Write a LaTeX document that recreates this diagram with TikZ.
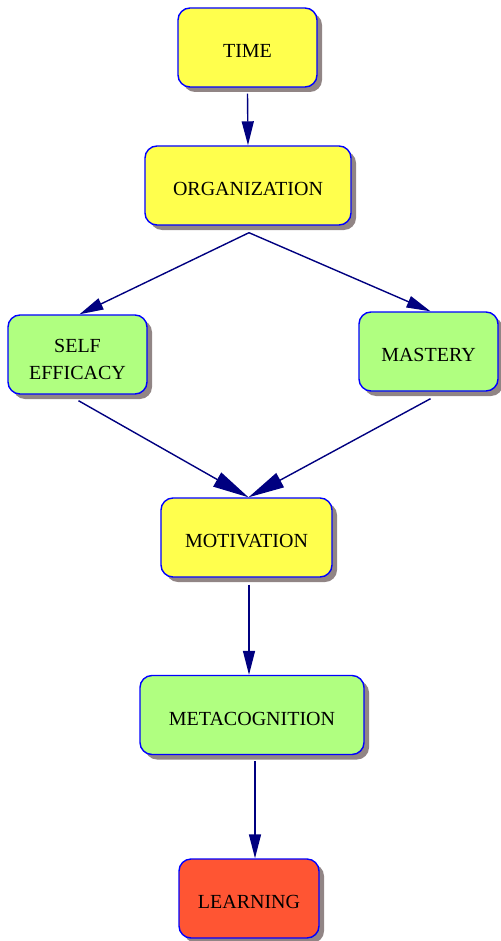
\documentclass[tikz,border=0pt]{standalone}
\usepackage{fontspec}
\setmainfont{Liberation Serif}
\usetikzlibrary{arrows.meta,shadows}
\definecolor{boxyellow}{HTML}{FFFF4D}
\definecolor{boxgreen}{HTML}{B0FF80}
\definecolor{boxred}{HTML}{FF5533}
\definecolor{shadowgray}{HTML}{918585}
\definecolor{edgenavy}{HTML}{000080}
\definecolor{borderblue}{HTML}{0000FF}
\begin{document}
\begin{tikzpicture}[x=1pt,y=-1pt,
  box/.style={draw=borderblue, line width=1.4pt, rounded corners=12pt,
    minimum height=79pt, inner sep=0pt, align=center,
    font=\fontsize{20}{27}\selectfont, text height=20pt, text depth=0pt,
    drop shadow={shadow xshift=5pt, shadow yshift=-5pt, fill=shadowgray, opacity=1}},
  conn/.style={draw=edgenavy, line width=1.4pt, -{Triangle[length=24pt,width=12pt]}},
  bigconn/.style={draw=edgenavy, line width=1.4pt, -{Triangle[length=36pt,width=16pt]}}]
\useasboundingbox (0,0) rectangle (500,941);
\node[box, fill=boxyellow, minimum width=139pt] (time) at (247.5,47.5) {TIME};
\node[box, fill=boxyellow, minimum width=206pt] (org) at (248,185.5) {ORGANIZATION};
\node[box, fill=boxgreen, minimum width=139pt, text height=49pt] (self) at (77.5,354.5) {SELF\\EFFICACY};
\node[box, fill=boxgreen, minimum width=139pt] (mastery) at (428.5,351.5) {MASTERY};
\node[box, fill=boxyellow, minimum width=171pt] (mot) at (246.5,537.5) {MOTIVATION};
\node[box, fill=boxgreen, minimum width=224pt] (meta) at (252,715) {METACOGNITION};
\node[box, fill=boxred, minimum width=140pt] (learn) at (249,898.5) {LEARNING};
\draw[conn] ([yshift=-6pt]time.south) -- (org.north);
\draw[conn] ([xshift=1pt,yshift=-7pt]org.south) -- ([xshift=2pt]self.north);
\draw[conn] ([xshift=1pt,yshift=-7pt]org.south) -- ([xshift=2pt]mastery.north);
\draw[bigconn] ([xshift=1pt,yshift=-6pt]self.south) -- ([xshift=2pt]mot.north);
\draw[bigconn] ([xshift=2pt,yshift=-7pt]mastery.south) -- ([xshift=2pt]mot.north);
\draw[conn] ([xshift=2.5pt,yshift=-7pt]mot.south) -- ([xshift=-3pt]meta.north);
\draw[conn] ([xshift=3pt,yshift=-6pt]meta.south) -- ([xshift=6pt]learn.north);
\end{tikzpicture}
\end{document}
